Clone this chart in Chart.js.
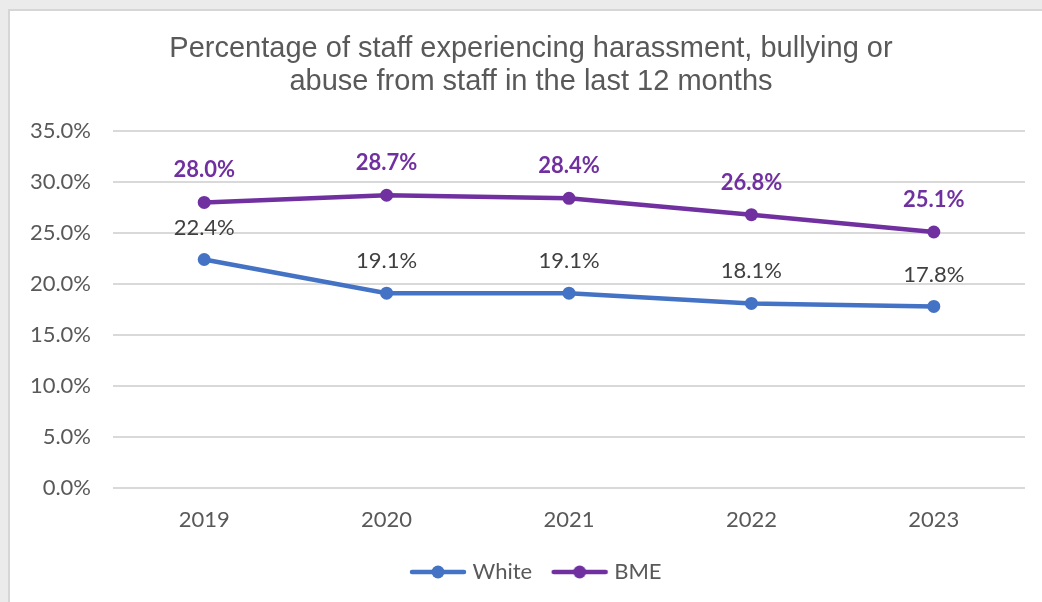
<!DOCTYPE html>
<html>
<head>
<meta charset="utf-8">
<title>Harassment from staff</title>
<script src="https://cdn.jsdelivr.net/npm/chart.js@4.4.0/dist/chart.umd.min.js"></script>
<style>
  html, body { margin: 0; padding: 0; background: #ebebeb; overflow: hidden; }
  #frame {
    position: absolute; left: 8px; top: 9px; width: 1100px; height: 650px;
    background: #fff; border-left: 2px solid #d6d6d6; border-top: 2px solid #d6d6d6;
  }
  #wrap { position: absolute; left: 0; top: 0; width: 1042px; height: 602px; }
</style>
</head>
<body>
<div id="frame"></div>
<div id="wrap"><canvas id="harassment"></canvas></div>
<script>
var years = ['2019', '2020', '2021', '2022', '2023'];
var white = [22.4, 19.1, 19.1, 18.1, 17.8];
var bme = [28.0, 28.7, 28.4, 26.8, 25.1];
var yTicks = [0, 5, 10, 15, 20, 25, 30, 35];

var BLUE = '#4472c4';
var PURPLE = '#7030a0';
var GREY_TEXT = '#595959';
var TICK_FONT = 'Lato';

// little line-with-dot swatch for the legend
function legendSwatch(color) {
    var c = document.createElement('canvas');
    c.width = 80;
    c.height = 16;
    var ctx = c.getContext('2d');
    ctx.strokeStyle = color;
    ctx.lineWidth = 4.5;
    ctx.lineCap = 'round';
    ctx.beginPath();
    ctx.moveTo(21, 8);
    ctx.lineTo(73, 8);
    ctx.stroke();
    ctx.fillStyle = color;
    ctx.beginPath();
    ctx.arc(47, 8, 6.5, 0, Math.PI * 2);
    ctx.fill();
    return c;
}
var swatches = [legendSwatch(BLUE), legendSwatch(PURPLE)];

// value labels above each point
var pointLabels = {
    id: 'pointLabels',
    afterDatasetsDraw: function (chart) {
        var ctx = chart.ctx;
        chart.data.datasets.forEach(function (ds, i) {
            var meta = chart.getDatasetMeta(i);
            ctx.save();
            ctx.font = (ds.labelBold ? 'bold ' : '') + '22px ' + TICK_FONT;
            ctx.fillStyle = ds.labelColor;
            ctx.textAlign = 'center';
            ctx.textBaseline = 'middle';
            meta.data.forEach(function (pt, j) {
                ctx.fillText(ds.data[j].toFixed(1) + '%', pt.x, pt.y - 32);
            });
            ctx.restore();
        });
    }
};

// title and legend sit a bit right of the canvas centre
var nudgeBlocks = {
    id: 'nudgeBlocks',
    afterLayout: function (chart) {
        if (chart.titleBlock) chart.titleBlock.left += 17;
        if (chart.legend) chart.legend.left += 17;
    }
};

var data = {
    labels: years,
    datasets: [
        {
            label: 'White',
            data: white,
            borderColor: BLUE,
            backgroundColor: BLUE,
            labelColor: '#404040',
            labelBold: false
        },
        {
            label: 'BME',
            data: bme,
            borderColor: PURPLE,
            backgroundColor: PURPLE,
            labelColor: PURPLE,
            labelBold: true
        }
    ]
};

const config = {
    type: 'line',
    data: data,
    plugins: [pointLabels, nudgeBlocks],
    options: {
        responsive: true,
        maintainAspectRatio: false,
        animation: false,
        layout: {
            padding: {left: 20, right: 17, top: 10, bottom: 9}
        },
        elements: {
            line: {borderWidth: 4.5, tension: 0, borderCapStyle: 'round'},
            point: {radius: 6.5, borderWidth: 0, hoverRadius: 6.5}
        },
        scales: {
            x: {
                offset: true,
                grid: {display: false},
                border: {display: false},
                ticks: {color: GREY_TEXT, font: {family: TICK_FONT, size: 22}, padding: 11},
                afterFit: function (scale) {
                    scale.height = 63;
                }
            },
            y: {
                min: 0,
                max: 35,
                afterBuildTicks: function (scale) {
                    scale.ticks = yTicks.map(v => ({value: v}));
                },
                grid: {color: '#d9d9d9', lineWidth: 2, drawTicks: false, tickLength: 0},
                border: {display: false},
                ticks: {
                    color: GREY_TEXT,
                    font: {family: TICK_FONT, size: 22},
                    padding: 22,
                    callback: function (v) {
                        return v.toFixed(1) + '%';
                    }
                },
                afterFit: function (scale) {
                    scale.width = 93;
                }
            }
        },
        plugins: {
            title: {
                display: true,
                text: ['Percentage of staff experiencing harassment, bullying or',
                       'abuse from staff in the last 12 months'],
                color: GREY_TEXT,
                font: {family: 'Liberation Sans', size: 29, weight: 'normal', lineHeight: 33 / 29},
                padding: {top: 22.5, bottom: 32.5}
            },
            legend: {
                position: 'bottom',
                labels: {
                    usePointStyle: true,
                    pointStyleWidth: 61,
                    padding: 10,
                    color: GREY_TEXT,
                    font: {family: TICK_FONT, size: 22},
                    generateLabels: function (chart) {
                        return chart.data.datasets.map((ds, i) => ({
                            text: ds.label,
                            fontColor: GREY_TEXT,
                            pointStyle: swatches[i],
                            datasetIndex: i,
                            hidden: false,
                            lineWidth: 0
                        }));
                    }
                }
            },
            tooltip: {enabled: false}
        }
    }
};
const graphic = new Chart(document.getElementById('harassment'), config);
</script>
</body>
</html>
